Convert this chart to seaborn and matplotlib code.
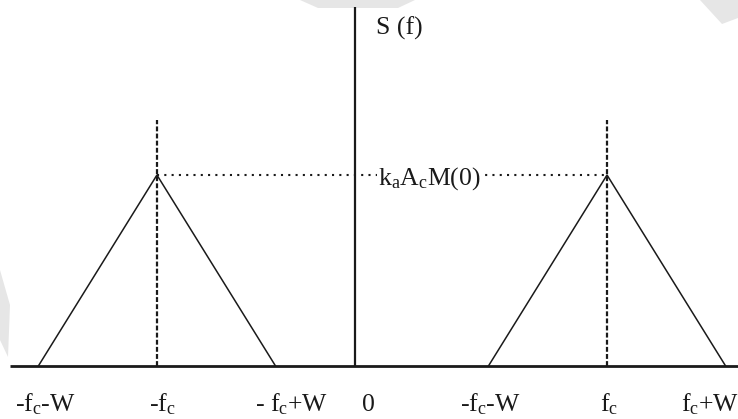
import numpy as np
import pandas as pd
import matplotlib
matplotlib.use("Agg")
import matplotlib.pyplot as plt
import seaborn as sns
from matplotlib.patches import Polygon

# Spectrum of an AM wave (plot units: one unit = message bandwidth W)
bandwidth_W = 1.0
carrier_freqs = [-1.67, 2.125]          # the two shifted copies of M(f)
peak_level = 1.0                         # k_a A_c M(0)
marker_top = 1.29                        # top of the dashed carrier markers
axis_top = 1.88                          # top of the S(f) axis
axis_left = -2.91

tick_labels = [
    r"-f$_\mathregular{c}$-W", r"-f$_\mathregular{c}$", r"- f$_\mathregular{c}$+W",
    "0",
    r"-f$_\mathregular{c}$-W", r"f$_\mathregular{c}$", r"f$_\mathregular{c}$+W",
]
peak_label = r"k$_\mathregular{a}$A$_\mathregular{c}$M(0)"
axis_label = "S (f)"

sns.set_theme(style="white")
plt.rcParams.update({
    "font.family": ["Liberation Serif", "DejaVu Serif"],
    "mathtext.fontset": "custom",
    "mathtext.rm": "Liberation Serif",
    "mathtext.it": "Liberation Serif:italic",
    "mathtext.bf": "Liberation Serif:bold",
})

fig = plt.figure(figsize=(7.38, 4.19), dpi=100)
fig.patch.set_facecolor("white")

# faint background shapes
for pts in ([(300, 0), (415, 0), (398, 8), (318, 8)],
            [(0, 270), (10, 305), (8, 357), (0, 340)],
            [(700, 0), (738, 0), (738, 18), (722, 24)]):
    fig.add_artist(Polygon([(x / 738, 1 - y / 419) for x, y in pts],
                           closed=True, transform=fig.transFigure,
                           facecolor="#e6e6e6", edgecolor="none", zorder=0))

ax = fig.add_axes([0, 0, 1, 1])
ax.set_facecolor("none")
ax.set_xlim(-355 / 118.6, 383 / 118.6)
ax.set_ylim(-53 / 191, 366 / 191)
ax.axis("off")

ink = "#1a1a1a"

# triangular spectra
rows = []
for band, c in enumerate(carrier_freqs):
    for f, s in ((c - bandwidth_W, 0.0), (c, peak_level), (c + bandwidth_W, 0.0)):
        rows.append({"band": band, "f": f, "S": s})
df = pd.DataFrame(rows)
sns.lineplot(data=df, x="f", y="S", units="band", estimator=None, sort=False,
             color=ink, lw=1.1, ax=ax, legend=False)

# dashed carrier markers
ax.vlines(carrier_freqs, 0, marker_top, colors=ink, lw=1.6,
          linestyles=[(0, (2.2, 1))])

# dotted peak level
ax.hlines(peak_level, min(carrier_freqs), max(carrier_freqs), colors=ink,
          lw=1.5, linestyles=[(0, (1, 2.5))])

# axes
ax.plot([axis_left, ax.get_xlim()[1]], [0, 0], color=ink, lw=2.0,
        solid_capstyle="butt")
ax.plot([0, 0], [0, axis_top], color=ink, lw=1.6, solid_capstyle="butt")

# frequency labels
tick_pos = []
for i, c in enumerate(carrier_freqs):
    band_ticks = [c - bandwidth_W, c, c + bandwidth_W]
    tick_pos += band_ticks
    if i == 0:
        tick_pos.append(0.0)
label_shift = [7, 5, 16, 13, 2, 2, -16]
for pos, lab, dx in zip(tick_pos, tick_labels, label_shift):
    ax.annotate(lab, xy=(pos, 0), xytext=(dx, -45), textcoords="offset pixels",
                ha="center", va="baseline", fontsize=18.5, color=ink)

ax.annotate(axis_label, xy=(0, axis_top), xytext=(21, -28),
            textcoords="offset pixels", ha="left", va="baseline",
            fontsize=18.5, color=ink)
ax.annotate(peak_label, xy=(0, peak_level), xytext=(23, -10),
            textcoords="offset pixels", ha="left", va="baseline",
            fontsize=18.5, color=ink,
            bbox=dict(facecolor="white", edgecolor="none", pad=1))

fig.savefig("out.png", dpi=100, facecolor="white")
